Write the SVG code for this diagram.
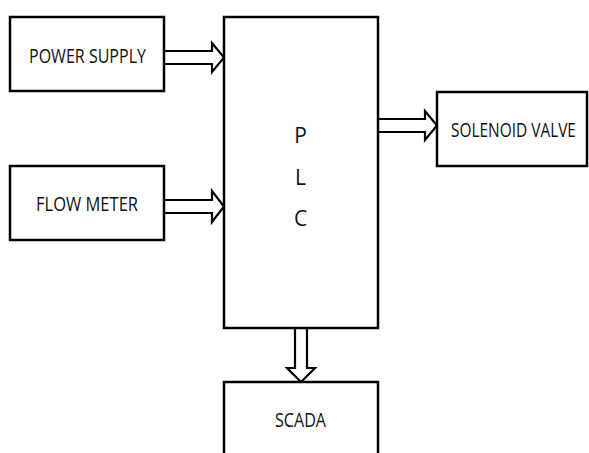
<svg xmlns="http://www.w3.org/2000/svg" width="589" height="453" viewBox="0 0 589 453">
<style>
.box{fill:#fff;stroke:#000;stroke-width:2.5}
.arr{fill:#fff;stroke:#000;stroke-width:2.2;stroke-linejoin:miter}
.lbl{font-family:"Open Sans","Liberation Sans",sans-serif;font-size:19.5px;fill:#111}
.plc{font-family:"Open Sans","Liberation Sans",sans-serif;font-size:21px;fill:#111;text-anchor:middle}
</style>
<rect width="589" height="453" fill="#fff"/>
<g id="connectors">
<path class="arr" d="M164,51 H212 V43 L224,57.5 L212,72 V64 H164"/>
<path class="arr" d="M164,200 H212 V191 L224,206.5 L212,222 V213 H164"/>
<path class="arr" d="M378,119 H425 V111 L437,125.5 L425,140 V132 H378"/>
<path class="arr" d="M295,328 V368 H287 L301,382 L315,368 H307 V328"/>
</g>
<g id="power-supply">
<rect class="box" x="10" y="17" width="154" height="74"/>
<text class="lbl" x="29" y="63" textLength="117" lengthAdjust="spacingAndGlyphs">POWER SUPPLY</text>
</g>
<g id="flow-meter">
<rect class="box" x="10" y="166" width="154" height="74"/>
<text class="lbl" x="36" y="211" textLength="102" lengthAdjust="spacingAndGlyphs">FLOW METER</text>
</g>
<g id="plc">
<rect class="box" x="224" y="17" width="154" height="311"/>
<text class="plc" x="300.5" y="143">P</text>
<text class="plc" x="300.5" y="184.5">L</text>
<text class="plc" x="300.5" y="226">C</text>
</g>
<g id="solenoid-valve">
<rect class="box" x="437" y="92" width="150" height="74"/>
<text class="lbl" transform="translate(451,137) scale(0.85,1)" x="0" y="0" textLength="147" lengthAdjust="spacingAndGlyphs">SOLENOID VALVE</text>
</g>
<g id="scada">
<rect class="box" x="224" y="382" width="154" height="80"/>
<text class="lbl" x="275" y="427" textLength="51" lengthAdjust="spacingAndGlyphs">SCADA</text>
</g>
</svg>
